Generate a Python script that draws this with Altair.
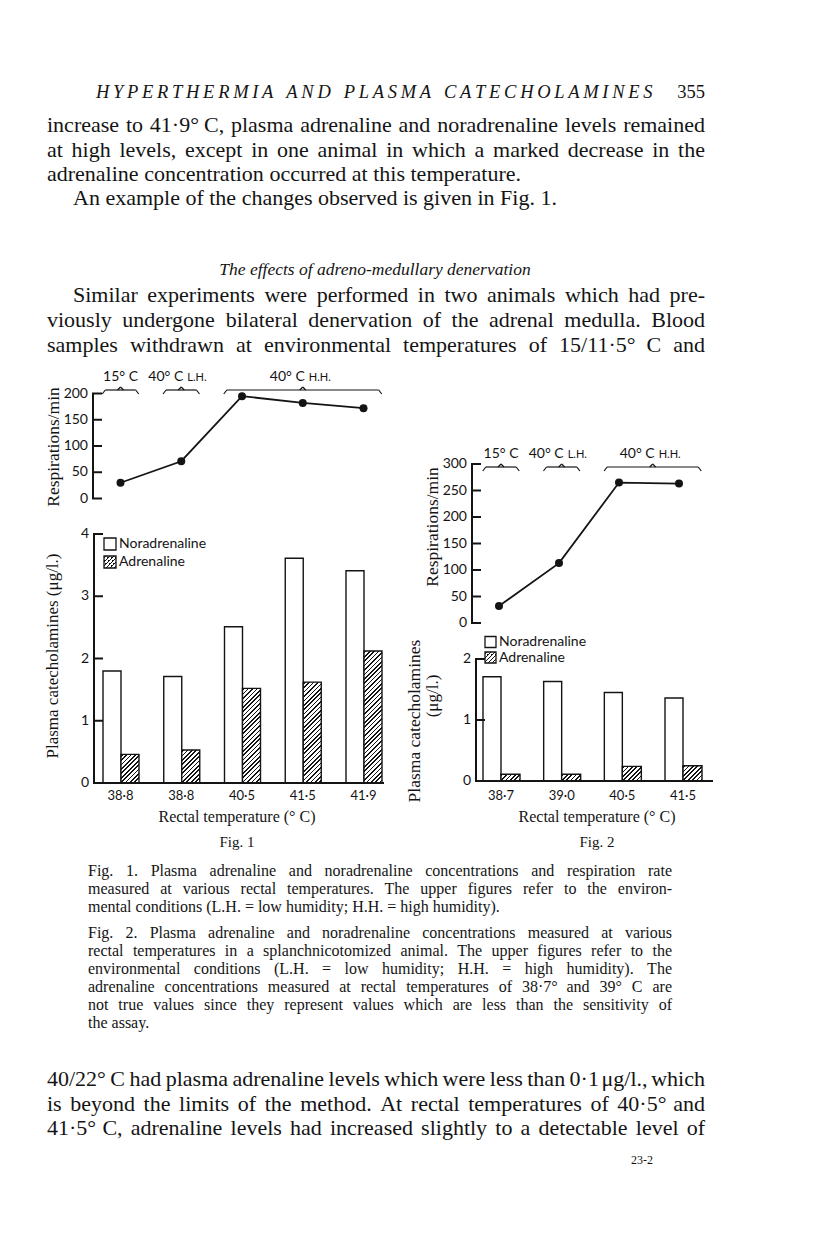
import altair as alt
import pandas as pd

# ------------------------------------------------------------------ data
fig1_temps = ["38·8", "38·8", "40·5", "41·5", "41·9"]
fig1_resp = [30, 71, 195, 182, 172]
fig1_noradrenaline = [1.80, 1.71, 2.51, 3.61, 3.41]
fig1_adrenaline = [0.46, 0.53, 1.52, 1.62, 2.12]
fig1_resp_ticks = [0, 50, 100, 150, 200]
fig1_conc_ticks = [0, 1, 2, 3, 4]

fig2_temps = ["38·7", "39·0", "40·5", "41·5"]
fig2_resp = [32, 113, 265, 263]
fig2_noradrenaline = [1.71, 1.63, 1.45, 1.36]
fig2_adrenaline = [0.11, 0.11, 0.24, 0.25]
fig2_resp_ticks = [0, 50, 100, 150, 200, 250, 300]
fig2_conc_ticks = [0, 1, 2]

env_labels = ["15° C", "40° C", "40° C"]
env_suffix = ["", "L.H.", "H.H."]
fig1_env_start = [0, 1, 2]
fig1_env_end = [0, 1, 4]
fig2_env_start = [0, 1, 2]
fig2_env_end = [0, 1, 3]
series = ["Noradrenaline", "Adrenaline"]

header_text = "HYPERTHERMIA AND PLASMA CATECHOLAMINES"
page_number = "355"
para1 = [
    "increase to 41·9° C, plasma adrenaline and noradrenaline levels remained",
    "at high levels, except in one animal in which a marked decrease in the",
    "adrenaline concentration occurred at this temperature.",
]
para2 = ["An example of the changes observed is given in Fig. 1."]
heading = "The effects of adreno-medullary denervation"
para3_first = ["Similar experiments were performed in two animals which had pre-"]
para3_rest = [
    "viously undergone bilateral denervation of the adrenal medulla. Blood",
    "samples withdrawn at environmental temperatures of 15/11·5° C and",
]
caption1 = [
    "Fig. 1. Plasma adrenaline and noradrenaline concentrations and respiration rate",
    "measured at various rectal temperatures. The upper figures refer to the environ-",
    "mental conditions (L.H. = low humidity; H.H. = high humidity).",
]
caption2 = [
    "Fig. 2. Plasma adrenaline and noradrenaline concentrations measured at various",
    "rectal temperatures in a splanchnicotomized animal. The upper figures refer to the",
    "environmental conditions (L.H. = low humidity; H.H. = high humidity). The",
    "adrenaline concentrations measured at rectal temperatures of 38·7° and 39° C are",
    "not true values since they represent values which are less than the sensitivity of",
    "the assay.",
]
bottom_para = [
    "40/22° C had plasma adrenaline levels which were less than 0·1 μg/l., which",
    "is beyond the limits of the method. At rectal temperatures of 40·5° and",
    "41·5° C, adrenaline levels had increased slightly to a detectable level of",
]
footer = "23-2"

# ------------------------------------------------------------------ style
INK = "#141414"
SERIF = "Liberation Serif"
SANS = "Lato"
M = 8


def P(v):
    return v - M


layers = []

TIMES = dict(zip("abcdefghijklmnopqrstuvwxyz",
                 [444, 500, 444, 500, 444, 333, 500, 500, 278, 278, 500, 278, 778,
                  500, 500, 500, 500, 333, 389, 278, 500, 500, 722, 500, 500, 444]))
TIMES.update(zip("ABCDEFGHIJKLMNOPQRSTUVWXYZ",
                 [722, 667, 667, 722, 611, 556, 722, 722, 333, 389, 722, 611, 889,
                  722, 722, 556, 722, 667, 556, 611, 722, 722, 944, 722, 722, 611]))
TIMES.update({c: 500 for c in "0123456789"})
TIMES.update({" ": 250, ".": 250, ",": 250, "-": 333, "(": 333, ")": 333, "/": 278,
              "°": 400, "·": 250, ";": 278, ":": 278, "=": 564, "μ": 500})


def text_w(s, size):
    return sum(TIMES.get(c, 500) for c in s) * size / 1000.0


def lin(domain, rng):
    return alt.Scale(type="linear", domain=list(domain), range=[P(rng[0]), P(rng[1])],
                     nice=False, zero=False)


PAGE_X = lin([0, 816], [0, 816])


def words_block(lines, x0, y0, dy, size, right_edges, first_x=None):
    """right_edges[i]: x where line i should end (justified), or None for natural spacing."""
    rows = []
    for i, line in enumerate(lines):
        start = first_x if (first_x is not None and i == 0) else x0
        words = line.split(" ")
        widths = [text_w(w, size) for w in words]
        x1 = right_edges[i]
        if x1 is not None and len(words) > 1:
            gap = (x1 - start - sum(widths)) / (len(words) - 1)
        else:
            gap = 0.25 * size
        x = start
        for w, wd in zip(words, widths):
            if w:
                rows.append({"i": i, "w": w, "x": x})
            x += wd + gap
    n = max(len(lines) - 1, 1)
    df = pd.DataFrame(rows)
    layers.append(
        alt.Chart(df).mark_text(align="left", baseline="middle", font=SERIF, fontSize=size,
                                color=INK).encode(
            x=alt.X("x:Q", scale=PAGE_X, axis=None),
            y=alt.Y("i:Q", scale=lin([0, n], [y0, y0 + dy * n]), axis=None),
            text="w:N",
        )
    )


def single_text(s, x, y, size, font=SERIF, align="left", italic=False, angle=0):
    kw = dict(align=align, baseline="middle", font=font, fontSize=size, color=INK)
    if italic:
        kw["fontStyle"] = "italic"
    if angle:
        kw["angle"] = angle
    layers.append(
        alt.Chart(pd.DataFrame({"t": [s]})).mark_text(**kw).encode(
            x=alt.value(P(x)), y=alt.value(P(y)), text="t:N")
    )


def hatch(w, h, pitch=4.4, lw=1.7):
    h = max(h, 1.0)
    L = w + h
    c = L * w / (w * w + h * h)
    stops = [{"offset": 0.0, "color": "white"}]
    k = 0
    while True:
        a = k * pitch + 1.0
        if a >= L:
            break
        b = min(a + lw, L)
        stops += [{"offset": a / L, "color": "white"}, {"offset": a / L, "color": INK},
                  {"offset": b / L, "color": INK}, {"offset": b / L, "color": "white"}]
        k += 1
    stops.append({"offset": 1.0, "color": "white"})
    return {"gradient": "linear", "x1": 0, "y1": 0, "x2": c, "y2": c * h / w, "stops": stops}


def y_axis(ticks, scale, x_axis, size=14, tick_len=9):
    df = pd.DataFrame({"v": ticks, "lab": [str(t) for t in ticks]})
    dom = pd.DataFrame({"lo": [min(ticks)], "hi": [max(ticks)]})
    layers.append(alt.Chart(dom).mark_rule(color=INK, strokeWidth=2).encode(
        x=alt.value(P(x_axis)), y=alt.Y("lo:Q", scale=scale, axis=None), y2="hi:Q"))
    layers.append(alt.Chart(df).mark_rule(color=INK, strokeWidth=2).encode(
        x=alt.value(P(x_axis - 1)), x2=alt.value(P(x_axis + tick_len)),
        y=alt.Y("v:Q", scale=scale, axis=None)))
    layers.append(alt.Chart(df).mark_text(align="right", baseline="middle", font=SANS,
                                          fontSize=size, color=INK).encode(
        x=alt.value(P(x_axis - 5)), y=alt.Y("v:Q", scale=scale, axis=None), text="lab:N"))


def resp_panel(values, ticks, x_axis, y_bottom, y_top, x_first, x_last):
    ys = lin([0, max(ticks)], [y_bottom, y_top])
    xs = lin([0, len(values) - 1], [x_first, x_last])
    df = pd.DataFrame({"i": list(range(len(values))), "v": values})
    enc = dict(x=alt.X("i:Q", scale=xs, axis=None), y=alt.Y("v:Q", scale=ys, axis=None))
    layers.append(alt.Chart(df).mark_line(color=INK, strokeWidth=1.8).encode(**enc))
    layers.append(alt.Chart(df).mark_circle(color=INK, size=64, opacity=1).encode(**enc))
    y_axis(ticks, ys, x_axis)


def bar_panel(cats, nor, adr, ticks, x_axis, x_end, y_bottom, y_top, left, step, w_nor, w_adr,
              lab_first, lab_last, lab_y):
    ys = lin([0, max(ticks)], [y_bottom, y_top])
    px_per = (y_bottom - y_top) / max(ticks)
    keys = [str(i) for i in range(len(cats))]

    def band(x_left, width):
        return alt.Scale(type="band", domain=keys,
                         range=[P(x_left), P(x_left + step * (len(keys) - 1) + width)],
                         paddingInner=1 - width / step, paddingOuter=0)

    df_n = pd.DataFrame({"k": keys, "v": nor})
    layers.append(alt.Chart(df_n).mark_bar(fill="white", stroke=INK, strokeWidth=1.4).encode(
        x=alt.X("k:N", scale=band(left, w_nor), axis=None),
        y=alt.Y("v:Q", scale=ys, axis=None)))
    for k, v in zip(keys, adr):
        df_a = pd.DataFrame({"k": [k], "v": [v]})
        layers.append(alt.Chart(df_a).mark_bar(fill=hatch(w_adr, v * px_per), stroke=INK,
                                               strokeWidth=1.4).encode(
            x=alt.X("k:N", scale=band(left + w_nor, w_adr), axis=None),
            y=alt.Y("v:Q", scale=ys, axis=None)))
    base = pd.DataFrame({"z": [0]})
    layers.append(alt.Chart(base).mark_rule(color=INK, strokeWidth=2).encode(
        x=alt.value(P(x_axis - 1)), x2=alt.value(P(x_end)),
        y=alt.Y("z:Q", scale=ys, axis=None)))
    y_axis(ticks, ys, x_axis)
    df_l = pd.DataFrame({"i": list(range(len(cats))), "t": cats})
    layers.append(alt.Chart(df_l).mark_text(align="center", baseline="middle", font=SANS,
                                            fontSize=13, color=INK).encode(
        x=alt.X("i:Q", scale=lin([0, len(cats) - 1], [lab_first, lab_last]), axis=None),
        y=alt.value(P(lab_y)), text="t:N"))


def brace_panel(starts, ends, n, x_first, x_last, y_b, y_lab):
    xs = lin([0, n - 1], [x_first, x_last])
    df = pd.DataFrame({"s": starts, "e": ends, "lab": env_labels, "suf": env_suffix})
    base = alt.Chart(df).transform_calculate(
        x0="datum.s - 0.3", x1="datum.e + 0.3", xm="(datum.s + datum.e) / 2")
    rk = dict(color=INK, strokeWidth=1.2)
    layers.append(base.mark_rule(xOffset=3, x2Offset=-3, **rk).encode(
        x=alt.X("x0:Q", scale=xs, axis=None), x2="x1:Q", y=alt.value(P(y_b))))
    layers.append(base.mark_rule(x2Offset=3, **rk).encode(
        x=alt.X("x0:Q", scale=xs, axis=None), x2="x0:Q",
        y=alt.value(P(y_b + 4)), y2=alt.value(P(y_b))))
    layers.append(base.mark_rule(x2Offset=-3, **rk).encode(
        x=alt.X("x1:Q", scale=xs, axis=None), x2="x1:Q",
        y=alt.value(P(y_b + 4)), y2=alt.value(P(y_b))))
    layers.append(base.mark_rule(xOffset=-3, **rk).encode(
        x=alt.X("xm:Q", scale=xs, axis=None), x2="xm:Q",
        y=alt.value(P(y_b)), y2=alt.value(P(y_b - 3))))
    layers.append(base.mark_rule(xOffset=3, **rk).encode(
        x=alt.X("xm:Q", scale=xs, axis=None), x2="xm:Q",
        y=alt.value(P(y_b)), y2=alt.value(P(y_b - 3))))
    tk = dict(baseline="middle", font=SANS, color=INK)
    layers.append(base.transform_filter("datum.suf == ''").mark_text(
        align="center", fontSize=14, **tk).encode(
        x=alt.X("xm:Q", scale=xs, axis=None), y=alt.value(P(y_lab)), text="lab:N"))
    layers.append(base.transform_filter("datum.suf != ''").mark_text(
        align="right", fontSize=14, dx=2, **tk).encode(
        x=alt.X("xm:Q", scale=xs, axis=None), y=alt.value(P(y_lab)), text="lab:N"))
    layers.append(base.transform_filter("datum.suf != ''").mark_text(
        align="left", fontSize=11, dx=6, **tk).encode(
        x=alt.X("xm:Q", scale=xs, axis=None), y=alt.value(P(y_lab + 1)), text="suf:N"))


def legend(x_box, y_first, y_second, size=12):
    ys = lin([0, 1], [y_first, y_second])
    df = pd.DataFrame({"i": [0, 1], "s": series})
    layers.append(alt.Chart(df.iloc[[0]]).mark_square(size=size * size, fill="white",
                                                      stroke=INK, strokeWidth=1.3,
                                                      opacity=1).encode(
        x=alt.value(P(x_box)), y=alt.Y("i:Q", scale=ys, axis=None)))
    layers.append(alt.Chart(df.iloc[[1]]).mark_square(size=size * size,
                                                      fill=hatch(size, size, 4.0, 1.6),
                                                      stroke=INK, strokeWidth=1.3,
                                                      opacity=1).encode(
        x=alt.value(P(x_box)), y=alt.Y("i:Q", scale=ys, axis=None)))
    layers.append(alt.Chart(df).mark_text(align="left", baseline="middle", font=SANS,
                                          fontSize=14, color=INK).encode(
        x=alt.value(P(x_box + size / 2 + 3)), y=alt.Y("i:Q", scale=ys, axis=None),
        text="s:N"))


# ------------------------------------------------------------------ page text
spaced_header = "\u2002\u2009".join("\u2009".join(w) for w in header_text.split(" "))
single_text(spaced_header, 96, 92, 18.5, italic=True)
single_text(page_number, 705, 92, 18.5, align="right")
BODY = 22
words_block(para1, 47, 125, 24.5, BODY, [705, 705, None])
words_block(para2, 73, 198, 24.5, BODY, [None])
single_text(heading, 375, 270, 17.5, align="center", italic=True)
words_block(para3_first, 73, 295, 24.5, BODY, [705])
words_block(para3_rest, 47, 320, 24.5, BODY, [705, 705])

# ------------------------------------------------------------------ figure 1
brace_panel(fig1_env_start, fig1_env_end, 5, 120.5, 363.5, 390, 377)
resp_panel(fig1_resp, fig1_resp_ticks, 93, 498.5, 393.5, 120.5, 363.5)
single_text("Respirations/min", 54, 447, 17.5, angle=270, align="center")
bar_panel(fig1_temps, fig1_noradrenaline, fig1_adrenaline, fig1_conc_ticks, 94, 384,
          783, 534, 103, 60.75, 18, 18, 120.5, 363.5, 796)
legend(110, 544, 562)
single_text("Plasma catecholamines (μg/l.)", 53, 656, 17, angle=270, align="center")
single_text("Rectal temperature (° C)", 237, 817, 16, align="center")
single_text("Fig. 1", 237, 842, 15, align="center")

# ------------------------------------------------------------------ figure 2
brace_panel(fig2_env_start, fig2_env_end, 4, 501, 683, 467, 454)
resp_panel(fig2_resp, fig2_resp_ticks, 472, 623, 464, 499, 679)
single_text("Respirations/min", 433, 527, 17.5, angle=270, align="center")
bar_panel(fig2_temps, fig2_noradrenaline, fig2_adrenaline, fig2_conc_ticks, 476, 713,
          781, 659, 483, 60.67, 18, 19, 501, 683, 796)
legend(490.5, 642, 657.5, 11)
single_text("Plasma catecholamines", 415, 721, 17.5, angle=270, align="center")
single_text("(μg/l.)", 433, 696, 17, angle=270, align="center")
single_text("Rectal temperature (° C)", 597, 817, 16, align="center")
single_text("Fig. 2", 597, 842, 15, align="center")

# ------------------------------------------------------------------ captions & bottom
CAP = 16
words_block(caption1, 88, 871, 18, CAP, [672, 672, None])
words_block(caption2, 88, 933, 18, CAP, [672, 672, 672, 672, 672, None])
words_block(bottom_para, 47, 1079, 24.5, BODY, [705, 705, 705])
single_text(footer, 642, 1160, 12, align="center")

chart = (
    alt.layer(*layers)
    .resolve_scale(x="independent", y="independent")
    .properties(width=800, height=1232, padding=0,
                autosize=alt.AutoSizeParams(type="none"), background="white")
    .configure_view(stroke=None)
)

chart.save("out.html", embed_options={"renderer": "svg", "actions": False})
